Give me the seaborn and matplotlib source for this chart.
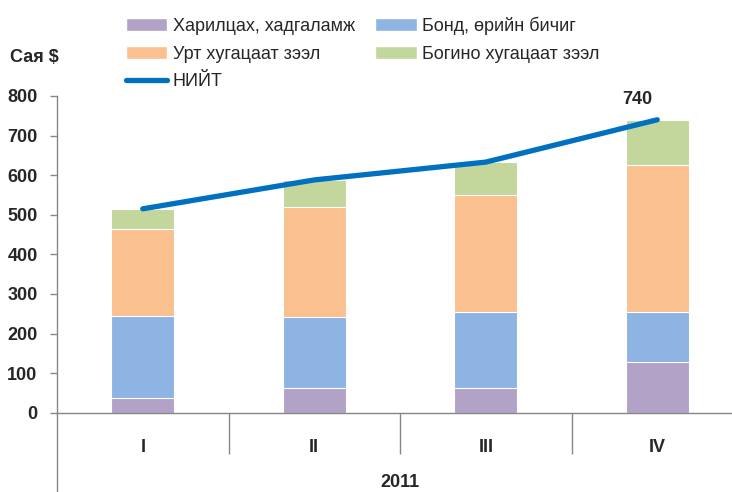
import numpy as np
import pandas as pd
import matplotlib
matplotlib.use('Agg')
import matplotlib.pyplot as plt
import seaborn as sns

# ── Data ──────────────────────────────────────────────────────────────────────
quarters   = ['I', 'II', 'III', 'IV']
year_label = '2011'
current    = [36, 62, 62, 129]     # Харилцах, хадгаламж
bonds      = [209, 180, 193, 126]  # Бонд, өрийн бичиг
long_loan  = [220, 278, 294, 370]  # Урт хугацаат зээл
short_loan = [50, 68, 84, 115]     # Богино хугацаат зээл
total      = [515, 588, 633, 740]  # НИЙТ

names  = ['Харилцах, хадгаламж', 'Бонд, өрийн бичиг',
          'Урт хугацаат зээл', 'Богино хугацаат зээл']
colors = ['#B3A2C7', '#8EB4E3', '#FAC090', '#C3D69B']
line_color = '#0070C0'

sns.set_style('white')
plt.rcParams['font.family'] = ['Liberation Sans', 'DejaVu Sans']

df = pd.DataFrame({'q': quarters, 'c1': current, 'c2': bonds,
                   'c3': long_loan, 'c4': short_loan})
cum = df[['c1', 'c2', 'c3', 'c4']].cumsum(axis=1)

fig = plt.figure(figsize=(7.32, 4.92), dpi=100)
ax = fig.add_axes([57/732, 1 - 412.7/492, 686/732, 316.7/492])

# stacked bars: draw cumulative totals from the top segment down
handles = {}
for col, name, color in reversed(list(zip(['c1', 'c2', 'c3', 'c4'], names, colors))):
    sns.barplot(x=df['q'], y=cum[col], color=color, width=0.37, ax=ax,
                edgecolor='white', linewidth=0.8, saturation=1)
    handles[name] = plt.Rectangle((0, 0), 1, 1, facecolor=color)

sns.lineplot(x=np.arange(len(quarters)), y=total, color=line_color, lw=3.8,
             ax=ax, solid_capstyle='round')
line_handle = plt.Line2D([], [], color=line_color, lw=3.8, solid_capstyle='round')

ax.annotate(f'{total[-1]}', (len(quarters) - 1, total[-1]), xytext=(-20, 12),
            textcoords='offset pixels', ha='center', va='bottom',
            fontsize=13, fontweight='bold')

ax.set_xlim(-0.5, len(quarters) - 0.5)
ax.set_ylim(0, 800)
ax.set_yticks(range(0, 801, 100))
ax.set_xlabel('')
ax.set_ylabel('')
for lab in ax.get_yticklabels():
    lab.set_fontweight('bold')
ax.tick_params(axis='y', left=True, length=5, width=1, color='#868686',
               pad=9, labelsize=13)
ax.set_xticks(range(len(quarters)))
ax.set_xticklabels(quarters, fontweight='bold', fontsize=13)
ax.set_xticks(np.arange(len(quarters)) + 0.5, minor=True)
ax.tick_params(axis='x', which='major', length=0, pad=19)
ax.tick_params(axis='x', which='minor', bottom=True, length=29.5, width=1,
               color='#868686')

sns.despine(ax=ax, top=True, right=True)
for s in ['left', 'bottom']:
    ax.spines[s].set_color('#868686')
    ax.spines[s].set_linewidth(1)
ax.plot([0, 0], [0, -79.3/316.7], transform=ax.transAxes, clip_on=False,
        color='#868686', lw=1)

ax.text(1.5, -70/316.7, year_label, transform=ax.get_xaxis_transform(),
        ha='center', va='center', fontsize=13, fontweight='bold')
fig.text(10/732, 1 - 57/492, 'Сая $', ha='left', va='center',
         fontsize=13, fontweight='bold')

order = [names[0], names[2], 'НИЙТ', names[1], names[3]]
hlist = [handles[names[0]], handles[names[2]], line_handle,
         handles[names[1]], handles[names[3]]]
fig.legend(hlist, order, ncol=2, frameon=False, loc='upper left',
           bbox_to_anchor=(113/732, 1 - 4/492), fontsize=13,
           handlelength=2.3, handleheight=0.75, handletextpad=0.3,
           columnspacing=1.13, labelspacing=0.59, borderpad=0.2)

fig.savefig('out.png', dpi=100)
